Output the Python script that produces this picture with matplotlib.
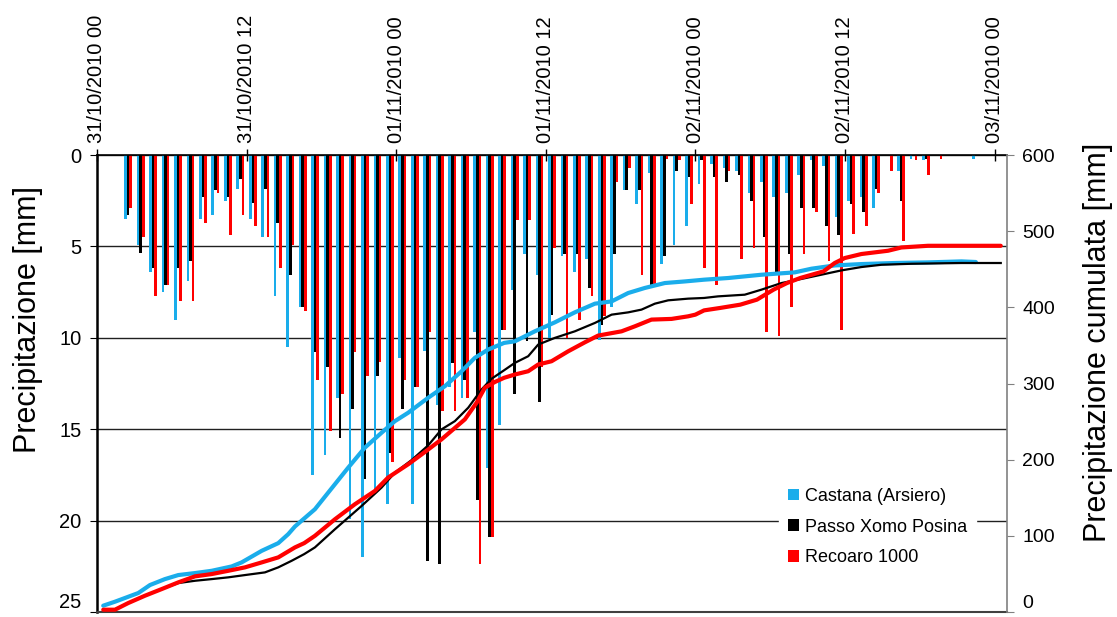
import numpy as np
import matplotlib.pyplot as plt

plt.rcParams['font.family'] = ['Liberation Sans', 'DejaVu Sans']

# hourly rain [mm], hour 0 = 31/10/2010 00
hours = np.arange(73)
castana = [0, 0, 3.5, 4.95, 6.4, 7.5, 9.0, 6.9, 3.5, 3.3, 2.5, 1.85, 3.5, 4.5, 7.7, 10.5,
           8.3, 17.5, 16.4, 13.3, 19.9, 22.0, 18.5, 19.1, 11.1, 19.1, 10.7, 13.7, 12.7, 13.3,
           9.7, 17.1, 14.75, 7.4, 5.4, 6.56, 10.0, 5.55, 6.4, 5.7, 10.1, 8.3, 1.9, 2.7, 1.0,
           5.95, 4.95, 3.9, 1.6, 0.5, 0.7, 0.9, 2.1, 1.5, 2.3, 2.1, 1.1, 0.3, 0.6, 3.4, 2.5,
           2.3, 2.9, 0, 0.9, 0.2, 0.3, 0, 0, 0, 0.2, 0, 0]
xomo = [0, 0, 3.3, 5.36, 6.2, 7.1, 6.2, 5.8, 2.3, 1.9, 2.3, 1.3, 2.6, 1.85, 3.7, 6.56,
        8.3, 10.75, 11.6, 15.5, 13.9, 17.7, 12.1, 16.3, 13.9, 12.7, 22.2, 22.4, 11.4, 12.3,
        18.9, 20.9, 9.6, 13.1, 10.2, 13.5, 8.75, 5.4, 5.4, 7.3, 9.3, 5.4, 1.9, 1.9, 7.2,
        5.55, 0.9, 1.2, 0.3, 1.2, 1.5, 1.1, 2.5, 4.5, 6.4, 5.4, 2.9, 2.9, 3.9, 4.4, 2.7,
        3.1, 1.85, 0, 2.5, 0, 0.2, 0, 0, 0, 0, 0, 0]
recoaro = [0, 0, 2.9, 4.5, 7.7, 7.1, 8.0, 8.0, 3.7, 2.1, 4.4, 3.3, 3.9, 4.5, 6.2, 4.95,
           8.56, 12.3, 15.1, 13.1, 10.75, 12.1, 11.3, 16.8, 12.3, 12.7, 9.7, 14.0, 14.0, 13.3,
           22.4, 20.9, 9.6, 3.55, 3.55, 11.6, 5.1, 10.0, 9.0, 7.7, 8.8, 1.5, 0.7, 6.56, 7.2,
           0.2, 0.3, 2.7, 6.2, 7.1, 0.9, 5.7, 5.1, 9.7, 9.9, 8.3, 5.4, 3.1, 5.8, 9.6, 4.3,
           3.9, 2.1, 0.9, 4.7, 0.3, 1.1, 0.2, 0, 0, 0, 0, 0]

# cumulated rain [mm] (time in hours)
castana_t = [0.5, 1.44, 3.31, 4.25, 5.45, 6.52, 7.86, 9.20, 10.80, 11.60, 13.21, 14.54,
             15.34, 15.88, 17.48, 18.55, 20.15, 21.49, 22.83, 23.90, 24.96, 26.57, 27.91,
             29.25, 30.31, 31.38, 32.66, 33.52, 35.12, 36.73, 38.33, 39.94, 41.28, 42.61,
             43.94, 45.55, 47.15, 48.70, 50.63, 53.30, 55.97, 57.31, 59.18, 61.32, 64.00,
             66.66, 69.34, 70.5]
castana_cum = [8.3, 13.5, 24.9, 35.4, 43.2, 48.5, 51.1, 54.1, 59.8, 65.1, 80.3, 90.4,
               102.2, 112.3, 134.9, 156.8, 189.5, 215.8, 235.4, 250.6, 261.6, 281.3, 296.5,
               316.1, 333.7, 344.6, 353.3, 355.4, 368.5, 380.3, 393.4, 404.8, 407.8, 418.8,
               425.4, 431.9, 434.0, 436.3, 438.5, 442.8, 445.9, 450.7, 455.0, 456.8, 458.2,
               459.0, 460.3, 459.5]
xomo_t = [0.5, 1.44, 2.51, 3.85, 5.19, 6.52, 7.86, 9.20, 10.53, 11.87, 13.47, 14.54, 15.61,
          16.62, 17.48, 19.09, 21.23, 22.83, 23.90, 25.24, 26.57, 27.64, 28.71, 29.78, 30.85,
          31.65, 32.66, 33.52, 34.59, 35.39, 36.73, 38.33, 39.94, 41.28, 42.61, 43.68, 44.75,
          45.82, 47.42, 48.70, 49.82, 51.96, 53.30, 54.91, 55.97, 57.84, 59.72, 61.32, 62.93,
          65.33, 69.34, 72.5]
xomo_cum = [3.0, 3.0, 11.8, 21.4, 30.1, 38.0, 41.0, 43.2, 45.5, 48.5, 52.0, 58.6, 67.2,
            76.0, 84.8, 108.7, 139.3, 163.4, 183.0, 199.5, 218.8, 239.8, 250.6, 268.2, 292.2,
            306.2, 317.4, 327.1, 335.8, 351.1, 359.9, 368.5, 379.5, 390.4, 393.4, 397.0, 404.8,
            409.2, 411.4, 412.3, 414.4, 416.6, 423.2, 431.9, 435.4, 441.9, 448.5, 452.9, 455.9,
            457.2, 458.2, 458.2]
recoaro_t = [0.5, 1.44, 2.51, 3.85, 5.19, 6.52, 7.86, 9.20, 10.53, 11.87, 13.21, 14.54,
             15.88, 16.62, 17.48, 19.09, 20.69, 22.29, 23.35, 24.96, 26.30, 27.64, 29.51,
             30.45, 31.11, 31.92, 32.66, 33.52, 34.59, 35.39, 36.46, 37.80, 39.14, 40.20,
             42.08, 43.15, 44.48, 46.09, 47.42, 48.0, 48.70, 49.99, 51.60, 52.94, 54.27,
             55.35, 56.41, 58.28, 59.18, 59.98, 61.32, 63.46, 64.53, 66.66, 72.5]
recoaro_cum = [3.0, 3.0, 11.8, 21.4, 30.1, 38.9, 46.8, 49.8, 54.1, 58.6, 65.1, 71.7,
               84.8, 90.4, 100.0, 121.8, 141.5, 158.9, 176.5, 193.9, 210.0, 226.7, 252.9,
               274.7, 294.4, 302.0, 307.5, 311.8, 316.1, 324.9, 329.2, 342.3, 354.1, 362.9,
               368.5, 375.1, 383.9, 384.8, 388.2, 390.4, 396.0, 399.2, 403.5, 410.1, 423.2,
               431.9, 438.5, 447.2, 458.2, 464.7, 470.0, 474.3, 478.6, 480.8, 480.8]

tick_hours = [0, 12, 24, 36, 48, 60, 72]
tick_labels = ['31/10/2010 00', '31/10/2010 12', '01/11/2010 00', '01/11/2010 12',
               '02/11/2010 00', '02/11/2010 12', '03/11/2010 00']

cyan = '#1AADEB'
red = '#FF0000'

fig = plt.figure(figsize=(11.17, 6.17), dpi=100)
ax = fig.add_axes([97 / 1117, 5 / 617, 910 / 1117, 457 / 617])

w = 0.21
ax.bar(hours + 0.5 - w, castana, width=w, color=cyan, label='Castana (Arsiero)', zorder=2)
ax.bar(hours + 0.5, xomo, width=w, color='black', label='Passo Xomo Posina', zorder=2)
ax.bar(hours + 0.5 + w, recoaro, width=w, color=red, label='Recoaro 1000', zorder=2)

ax.set_xlim(0, 73)
ax.set_ylim(25, 0)
ax.set_yticks([0, 5, 10, 15, 20, 25])
ax.set_axisbelow(True)
ax.yaxis.grid(True, color='#202020', lw=1.0)
ax.xaxis.tick_top()
ax.set_xticks(tick_hours)
ax.set_xticklabels(tick_labels, rotation=90, fontsize=14.5)
ax.tick_params(axis='x', direction='inout', length=8, width=1, pad=5)
ax.tick_params(axis='y', direction='out', length=5, labelsize=14.5, pad=6)
ax.set_ylabel('Precipitazione [mm]', fontsize=22)
# label anchor is the right edge of the rotated text
ax.yaxis.set_label_coords(-0.059, 0.64)
ax.yaxis.get_major_ticks()[-1].label1.set_verticalalignment('bottom')

ax.spines['left'].set_linewidth(1.8)
ax.spines['top'].set_linewidth(1.2)
ax.spines['bottom'].set_color('#404040')
ax.spines['bottom'].set_linewidth(1.5)
ax.spines['right'].set_visible(False)

ax2 = ax.twinx()
ax2.plot(castana_t, castana_cum, color=cyan, lw=3, solid_capstyle='round', zorder=3)
ax2.plot(xomo_t, xomo_cum, color='black', lw=1.6, zorder=3)
ax2.plot(recoaro_t, recoaro_cum, color=red, lw=3, solid_capstyle='round', zorder=3)
ax2.set_ylim(0, 600)
ax2.set_yticks(range(0, 601, 100))
ax2.tick_params(axis='y', direction='out', length=5, labelsize=14, pad=6, color='#808080')
ax2.set_ylabel('Precipitazione cumulata [mm]', fontsize=22)
# label anchor is the left edge of the rotated text
ax2.yaxis.set_label_coords(1.083, 0.59)
ax2.yaxis.get_major_ticks()[0].label2.set_verticalalignment('bottom')
for s in ['left', 'top', 'bottom']:
    ax2.spines[s].set_visible(False)
ax2.spines['right'].set_color('#808080')
ax2.spines['right'].set_linewidth(1.2)

handles, labels = ax.get_legend_handles_labels()
leg = ax2.legend(handles, labels, loc='upper left', bbox_to_anchor=(770 / 1117, 1 - 470 / 617),
                 bbox_transform=fig.transFigure, fontsize=13, frameon=True, fancybox=False,
                 edgecolor='white', facecolor='white', framealpha=1, handlelength=0.6,
                 handleheight=0.6, handletextpad=0.35, labelspacing=0.75, borderpad=0.5)

plt.savefig('out.png', dpi=100)
